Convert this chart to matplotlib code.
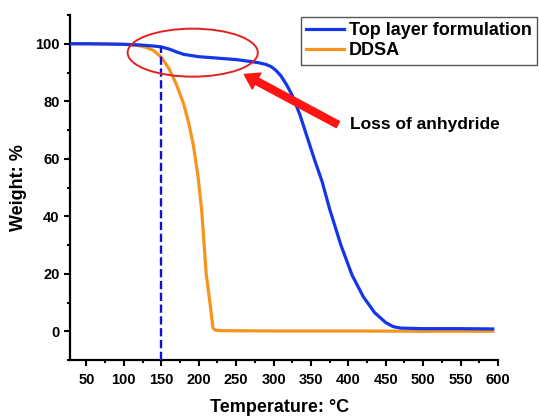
import numpy as np
import matplotlib
matplotlib.use("Agg")
import matplotlib.pyplot as plt
from matplotlib.patches import Ellipse
from matplotlib.ticker import MultipleLocator

plt.rcParams['font.family'] = ['Liberation Sans', 'DejaVu Sans']
plt.rcParams['font.weight'] = 'bold'

# TGA data
top_T = [30, 50, 80, 100, 120, 140, 150, 160, 170, 180, 200, 225, 250, 270, 280,
         290, 297, 303, 310, 318, 325, 335, 345, 355, 365, 375, 390, 405, 420,
         435, 450, 460, 470, 500, 550, 593]
top_W = [100, 100, 99.9, 99.8, 99.6, 99.2, 98.9, 98.2, 97.2, 96.3, 95.5, 95.0,
         94.5, 93.8, 93.4, 92.8, 92.0, 90.8, 88.8, 85.5, 82.0, 75.5, 67.5, 59.5,
         52.0, 42.5, 30.0, 19.5, 12.0, 6.5, 3.0, 1.6, 1.1, 0.9, 0.9, 0.8]

ddsa_T = [30, 50, 80, 100, 110, 120, 130, 140, 150, 160, 170, 180, 187, 193,
          199, 204, 210, 215, 219, 222, 230, 300, 400, 500, 593]
ddsa_W = [100, 100, 99.9, 99.8, 99.6, 99.3, 98.7, 97.6, 95.3, 91.5, 86.0, 79.0,
          72.0, 64.5, 54.0, 42.0, 20.0, 10.0, 1.2, 0.4, 0.2, 0.1, 0.1, 0.0, 0.0]

labels = ['Top layer formulation', 'DDSA']

dash_T = 150
dash_top = 98.8

# ellipse (centre, width, height in data units) and arrow
ell_c = (192, 96.9)
ell_w, ell_h = 174, 16.7
arrow_tail = (386, 71.9)
arrow_head = (261, 89.3)
note = 'Loss of anhydride'

fig = plt.figure(figsize=(5.39, 4.17), dpi=100)
ax = fig.add_axes([70/539, 1-360/417, 428/539, 345/417])

ax.plot(top_T, top_W, color='#1436ea', lw=2.3, label=labels[0], zorder=3)
ax.plot(ddsa_T, ddsa_W, color='#f7941d', lw=2.3, label=labels[1], zorder=2)
ax.vlines(dash_T, -10, dash_top, colors='#1010d8', lw=1.7,
          linestyles=[(0, (3.5, 1.5))], zorder=4)

ax.add_patch(Ellipse(ell_c, ell_w, ell_h, fill=False, edgecolor='#e02222',
                     lw=1.4, zorder=5))
ax.annotate('', xy=arrow_head, xytext=arrow_tail,
            arrowprops=dict(color='#ff1414', width=5, headwidth=13,
                            headlength=10, shrink=0))
ax.text(arrow_tail[0] + 16, arrow_tail[1], note, fontsize=12.5,
        fontweight='bold', va='center', ha='left')

ax.set_xlim(28, 600)
ax.set_ylim(-10, 110)
ax.xaxis.set_major_locator(MultipleLocator(50))
ax.xaxis.set_minor_locator(MultipleLocator(25))
ax.yaxis.set_major_locator(MultipleLocator(20))
ax.yaxis.set_minor_locator(MultipleLocator(10))
ax.set_xticks(np.arange(50, 601, 50))
ax.set_yticks(np.arange(0, 101, 20))

for s in ['top', 'right']:
    ax.spines[s].set_visible(False)
for s in ['left', 'bottom']:
    ax.spines[s].set_linewidth(1.6)
ax.tick_params(which='major', direction='out', length=4, width=1.5,
               labelsize=10.5)
ax.tick_params(axis='x', which='major', pad=5)
ax.tick_params(which='minor', direction='out', length=2.5, width=1.5)

ax.set_xlabel('Temperature: \u00b0C', fontsize=13, fontweight='bold')
ax.set_ylabel('Weight: %', fontsize=13, fontweight='bold')
ax.xaxis.set_label_coords(0.49, -0.113)
ax.yaxis.set_label_coords(-0.10, 0.5)

leg = ax.legend(loc='upper left', bbox_to_anchor=(301/539, 1-17/417),
                bbox_transform=fig.transFigure, borderaxespad=0,
                fancybox=False, framealpha=1, edgecolor='#555555',
                prop={'size': 13, 'weight': 'bold'}, handlelength=2.1,
                handletextpad=0.25, labelspacing=0.15, borderpad=0.3)
leg.get_frame().set_linewidth(1.0)

fig.savefig('out.png', dpi=100)
